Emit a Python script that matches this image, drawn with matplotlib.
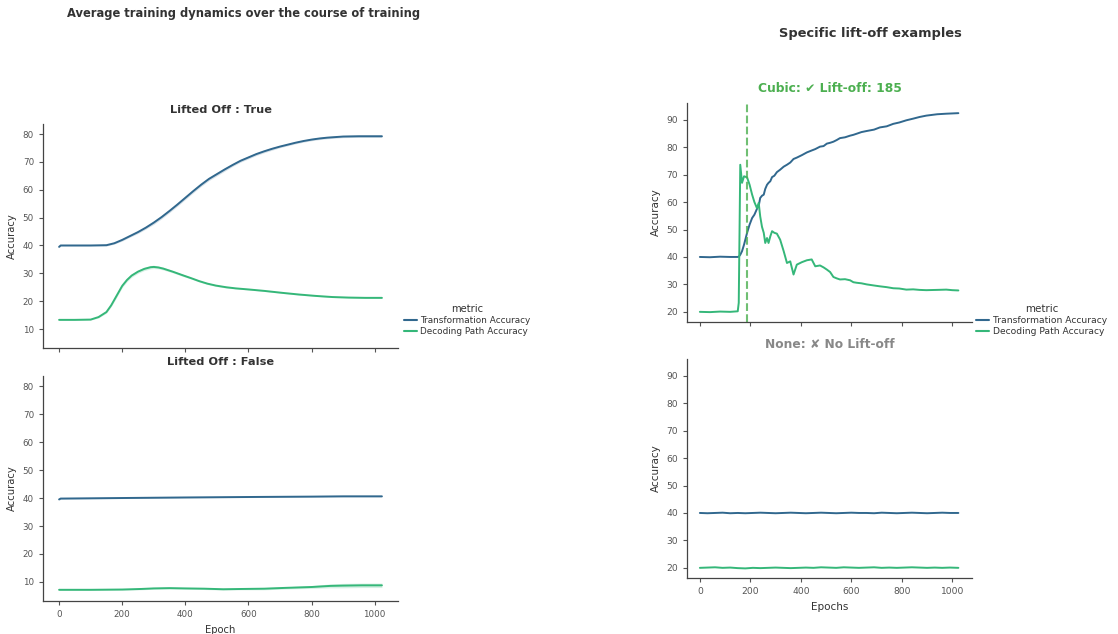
import matplotlib
matplotlib.use("Agg")
import matplotlib.pyplot as plt
import seaborn as sns

sns.set_style("ticks")
plt.rcParams['font.family'] = ['DejaVu Sans']

palette = sns.color_palette("viridis", 2)
metrics = ["Transformation Accuracy", "Decoding Path Accuracy"]

# averaged curves, lifted off = True
avg_true_epochs = [0, 5, 50, 100, 150, 175, 200, 225, 250, 275, 300, 325, 350, 375, 400, 425, 450, 475, 500,
                   525, 550, 575, 600, 625, 650, 675, 700, 725, 750, 775, 800, 825, 850, 875, 900, 950, 1000, 1023]
avg_true_transf = [39.5, 40.0, 40.0, 40.0, 40.1, 40.8, 42.0, 43.4, 44.8, 46.4, 48.2, 50.2, 52.4, 54.7, 57.1, 59.5, 61.8, 63.9, 65.6,
                   67.3, 68.9, 70.4, 71.6, 72.8, 73.8, 74.7, 75.5, 76.2, 76.9, 77.5, 78.0, 78.4, 78.7, 78.9, 79.1, 79.2, 79.2, 79.2]
avg_true_transf_ci = [0.3, 0.2, 0.2, 0.2, 0.3, 0.3, 0.4, 0.4, 0.5, 0.5, 0.6, 0.6, 0.6, 0.6, 0.6, 0.6, 0.6, 0.6, 0.6,
                      0.6, 0.5, 0.5, 0.5, 0.5, 0.5, 0.5, 0.4, 0.4, 0.4, 0.4, 0.4, 0.4, 0.4, 0.4, 0.4, 0.4, 0.4, 0.4]
avg_true_decode_epochs = [0, 50, 100, 125, 150, 165, 180, 200, 215, 230, 250, 270, 290, 300, 315, 330, 360, 392, 420,
                          444, 470, 497, 530, 560, 602, 650, 707, 760, 813, 865, 918, 970, 1023]
avg_true_decode = [13.3, 13.3, 13.4, 14.3, 16.1, 18.5, 21.5, 25.5, 27.6, 29.2, 30.6, 31.6, 32.2, 32.3, 32.1, 31.7, 30.6, 29.3, 28.2,
                   27.2, 26.3, 25.6, 25.0, 24.6, 24.2, 23.7, 23.0, 22.4, 21.9, 21.5, 21.3, 21.2, 21.2]
avg_true_decode_ci = [0.2, 0.2, 0.2, 0.3, 0.4, 0.5, 0.6, 0.6, 0.6, 0.6, 0.6, 0.6, 0.6, 0.6, 0.5, 0.5, 0.4, 0.4, 0.3,
                      0.3, 0.3, 0.3, 0.3, 0.2, 0.2, 0.2, 0.2, 0.2, 0.2, 0.2, 0.2, 0.2, 0.2]

# averaged curves, lifted off = False
avg_false_epochs = [0, 5, 200, 300, 400, 520, 650, 800, 900, 1023]
avg_false_transf = [39.5, 39.8, 40.0, 40.1, 40.2, 40.3, 40.4, 40.5, 40.6, 40.6]
avg_false_transf_ci = [0.3, 0.2, 0.2, 0.2, 0.2, 0.2, 0.2, 0.2, 0.2, 0.2]
avg_false_decode_epochs = [0, 100, 200, 260, 300, 350, 400, 460, 520, 580, 650, 720, 800, 860, 900, 960, 1023]
avg_false_decode = [7.2, 7.2, 7.3, 7.5, 7.7, 7.8, 7.7, 7.6, 7.4, 7.5, 7.6, 7.9, 8.2, 8.6, 8.7, 8.8, 8.8]
avg_false_decode_ci = [0.2, 0.2, 0.2, 0.3, 0.3, 0.3, 0.3, 0.3, 0.3, 0.3, 0.4, 0.4, 0.5, 0.7, 0.8, 0.8, 0.8]

# single run, cubic, lift-off at epoch 185
lift_off_epoch = 185
cubic_epochs = [0, 40, 80, 120, 150, 154, 160, 167, 175, 187, 197, 207, 216, 226, 233, 239, 246, 253, 259, 266,
                272, 279, 286, 295, 305, 318, 332, 345, 358, 371, 384, 404, 424, 443, 457, 476, 490, 503, 516, 529,
                542, 555, 575, 595, 608, 621, 640, 661, 690, 713, 740, 766, 790, 818, 845, 870, 897, 940, 976, 1000, 1024]
cubic_transf = [40.0, 39.9, 40.1, 40.0, 40.0, 40.1, 40.8, 42.1, 44.5, 48.8, 51.8, 54.2, 55.4, 57.5, 58.6, 61.5, 62.3, 62.7, 64.8, 66.3,
                67.0, 67.6, 69.1, 69.6, 70.9, 71.8, 72.9, 73.6, 74.4, 75.7, 76.2, 77.1, 78.1, 78.8, 79.3, 80.2, 80.4, 81.3, 81.6, 82.0,
                82.6, 83.3, 83.6, 84.2, 84.5, 84.9, 85.5, 85.9, 86.4, 87.2, 87.6, 88.5, 89.0, 89.8, 90.4, 91.0, 91.5, 92.0, 92.2, 92.3, 92.4]
cubic_decode = [20.0, 19.9, 20.1, 20.0, 20.2, 23.3, 73.6, 67.0, 69.4, 69.0, 66.3, 62.7, 60.0, 57.8, 59.7, 54.8, 51.0, 48.8, 45.1, 46.9,
                45.1, 47.5, 49.4, 48.8, 48.5, 46.3, 42.1, 37.8, 38.4, 33.6, 37.2, 38.1, 38.8, 39.1, 36.6, 36.9, 36.2, 35.4, 34.5, 32.7,
                32.2, 31.8, 31.9, 31.5, 30.8, 30.6, 30.4, 30.0, 29.6, 29.3, 29.0, 28.6, 28.5, 28.1, 28.2, 28.0, 27.9, 28.0, 28.1, 27.9, 27.8]

# single run, no lift-off
none_epochs = [0, 30, 60, 90, 120, 150, 180, 210, 240, 270, 300, 330, 360, 390, 420, 450, 480, 510, 540,
               570, 600, 630, 660, 690, 720, 750, 780, 810, 840, 870, 900, 930, 960, 990, 1024]
none_transf = [40.0, 39.9, 40.0, 40.1, 39.9, 40.0, 39.9, 40.0, 40.1, 40.0, 39.9, 40.0, 40.1, 40.0, 39.9, 40.0, 40.1, 40.0, 39.9,
               40.0, 40.1, 40.0, 40.0, 39.9, 40.1, 40.0, 39.9, 40.0, 40.1, 40.0, 39.9, 40.0, 40.1, 40.0, 40.0]
none_decode = [20.0, 20.1, 20.2, 20.0, 20.1, 19.9, 19.8, 20.0, 19.9, 20.0, 20.1, 20.0, 19.9, 20.0, 20.1, 20.0, 20.2, 20.1, 20.0,
               20.2, 20.1, 20.0, 20.1, 20.2, 20.0, 20.1, 20.0, 20.1, 20.2, 20.1, 20.0, 20.1, 20.0, 20.1, 20.0]

text_col = "#333333"
tick_col = "#555555"


def style_axes(ax, size):
    sns.despine(ax=ax)
    ax.tick_params(labelsize=size, colors=tick_col, length=3, width=0.8)
    for s in ("left", "bottom"):
        ax.spines[s].set_color("#444444")
        ax.spines[s].set_linewidth(0.9)


def draw_band(ax, epochs, vals, ci, col):
    lo = [v - c for v, c in zip(vals, ci)]
    hi = [v + c for v, c in zip(vals, ci)]
    ax.fill_between(epochs, lo, hi, color=col, alpha=0.2, lw=0)
    ax.plot(epochs, vals, color=col, lw=1.4)


fig = plt.figure(figsize=(11.18, 6.34), dpi=100)
W, H = 1118, 634


def px_axes(x0, y0, x1, y1):
    return fig.add_axes([x0 / W, 1 - y1 / H, (x1 - x0) / W, (y1 - y0) / H])


ax_lt = px_axes(43, 124, 398, 348)
ax_lb = px_axes(43, 376, 398, 601)
ax_rt = px_axes(687, 103, 972, 322)
ax_rb = px_axes(687, 359, 972, 578)

draw_band(ax_lt, avg_true_epochs, avg_true_transf, avg_true_transf_ci, palette[0])
draw_band(ax_lt, avg_true_decode_epochs, avg_true_decode, avg_true_decode_ci, palette[1])
draw_band(ax_lb, avg_false_epochs, avg_false_transf, avg_false_transf_ci, palette[0])
draw_band(ax_lb, avg_false_decode_epochs, avg_false_decode, avg_false_decode_ci, palette[1])

ax_rt.plot(cubic_epochs, cubic_transf, color=palette[0], lw=1.4)
ax_rt.plot(cubic_epochs, cubic_decode, color=palette[1], lw=1.4)
ax_rt.axvline(lift_off_epoch, color="#4caf50", ls="--", lw=1.5, alpha=0.8)
ax_rb.plot(none_epochs, none_transf, color=palette[0], lw=1.4)
ax_rb.plot(none_epochs, none_decode, color=palette[1], lw=1.4)

for ax in (ax_lt, ax_lb):
    ax.set_xlim(-51, 1074)
    ax.set_ylim(3.2, 83.6)
    ax.set_yticks(range(10, 90, 10))
    ax.set_xticks(range(0, 1200, 200))
    ax.set_ylabel("Accuracy", fontsize=7.2, color=text_col)
    style_axes(ax, 6.3)
ax_lt.tick_params(labelbottom=False)
ax_lb.set_xlabel("Epoch", fontsize=7.2, color=text_col)
ax_lt.set_title("Lifted Off : True", fontsize=8.2, fontweight="bold", color=text_col, pad=8)
ax_lb.set_title("Lifted Off : False", fontsize=8.2, fontweight="bold", color=text_col, pad=8)

for ax in (ax_rt, ax_rb):
    ax.set_xlim(-51, 1078)
    ax.set_ylim(16.3, 96.1)
    ax.set_yticks(range(20, 100, 10))
    ax.set_xticks(range(0, 1200, 200))
    ax.set_ylabel("Accuracy", fontsize=7.5, color=text_col)
    style_axes(ax, 6.6)
ax_rt.tick_params(labelbottom=False)
ax_rb.set_xlabel("Epochs", fontsize=7.5, color=text_col)
ax_rt.set_title("Cubic: \u2714 Lift-off: %d" % lift_off_epoch, fontsize=8.8, fontweight="bold", color="#4caf50", pad=8)
ax_rb.set_title("None: \u2718 No Lift-off", fontsize=8.8, fontweight="bold", color="#888888", pad=8)

fig.text(244 / W, 1 - 13 / H, "Average training dynamics over the course of training",
         ha="center", va="center", fontsize=8.3, fontweight="bold", color=text_col)
fig.text(870 / W, 1 - 33 / H, "Specific lift-off examples",
         ha="center", va="center", fontsize=9.4, fontweight="bold", color=text_col)

handles = [plt.Line2D([], [], color=c, lw=1.5) for c in palette]
for x_anchor, fs in ((400, 6.4), (972, 6.6)):
    leg = fig.legend(handles, metrics, title="metric", loc="center left",
                     bbox_to_anchor=(x_anchor / W, 1 - 320 / H), frameon=False,
                     fontsize=fs, title_fontsize=fs + 0.8, handlelength=1.5, handletextpad=0.4,
                     labelspacing=0.25, borderaxespad=0)
    for t in leg.get_texts():
        t.set_color(text_col)
    leg.get_title().set_color(text_col)

fig.savefig("out.png", dpi=100)
